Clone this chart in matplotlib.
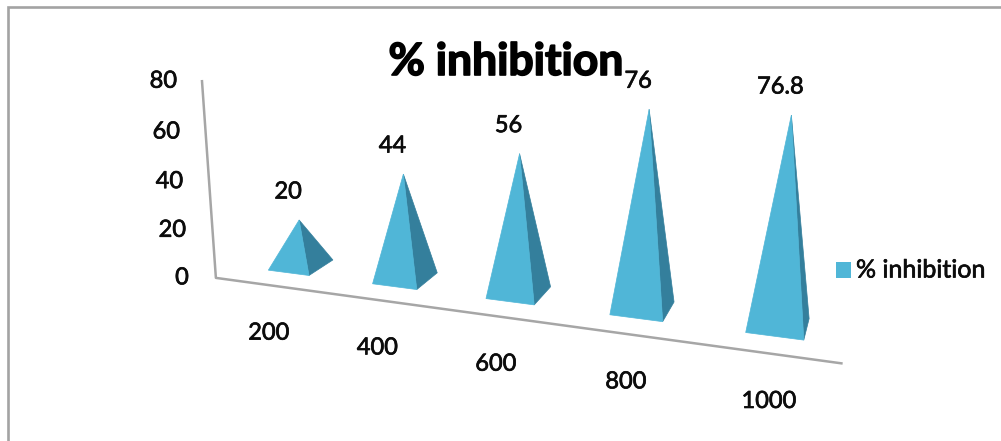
import numpy as np
import matplotlib
matplotlib.use("Agg")
import matplotlib.pyplot as plt
import matplotlib.patheffects as pe
from matplotlib.patches import Polygon

plt.rcParams['font.family'] = ['Lato', 'DejaVu Sans']

categories = ["200", "400", "600", "800", "1000"]
inhibition = [20, 44, 56, 76, 76.8]
value_ticks = [0, 20, 40, 60, 80]
value_labels = ["0", "20", "40", "60", "80"]
title_text = "% inhibition"

W, H = 1001, 441
FRONT = "#50b6d7"
SIDE = "#347f9c"
AXIS = "#a6a6a6"
INK = "#0c0c0c"

# camera for the 3D view: (category, value, depth) -> canvas position
CAMERA = np.array([
    [301.0, 88.1, -0.24, 18.2],
    [265.0, 2.1, -2.358, -2.4],
    [1.0, -0.04, -0.00049, 0.0198],
])
HALF_WIDTH = 0.2
HALF_DEPTH = 1.0
FLOOR_DEPTH = -2.5
AXIS_START = -0.52
AXIS_END = 4.47
WALL_STRETCH = 1.03

# the labels print a bit heavier than the regular weight
HEAVY = [pe.withStroke(linewidth=0.5, foreground=INK)]
HEAVIER = [pe.withStroke(linewidth=1.2, foreground="black")]


def project(u, v, d=0.0):
    px, py, w = CAMERA @ np.array([1.0, u, v, d])
    return px / w, py / w


fig = plt.figure(figsize=(W / 100, H / 100), dpi=100)
ax = fig.add_axes([0, 0, 1, 1])
ax.set_xlim(0, W)
ax.set_ylim(H, 0)
ax.axis("off")

# chart frame, only top and left edges are visible
ax.plot([8, 8, W], [H, 6.5, 6.5], color="#a3a3a3", lw=1.9, solid_joinstyle="miter")

# axes walls
bottom = project(AXIS_START, 0, FLOOR_DEPTH)
top = project(AXIS_START, 80 * WALL_STRETCH, FLOOR_DEPTH)
right = project(AXIS_END, 0, FLOOR_DEPTH)
ax.plot([top[0] - 2, bottom[0], right[0]], [top[1], bottom[1], right[1]], color=AXIS, lw=1.8)

for tick, label in zip(value_ticks, value_labels):
    tx, ty = project(AXIS_START, tick * WALL_STRETCH, FLOOR_DEPTH)
    ax.text(tx - 27, ty, label, fontsize=17, ha="right", va="center", color=INK, path_effects=HEAVY)

# pyramids with the labels above them
for i, (cat, val) in enumerate(zip(categories, inhibition)):
    apex = project(i, val)
    fl = project(i - HALF_WIDTH, 0, -HALF_DEPTH)
    fr = project(i + HALF_WIDTH, 0, -HALF_DEPTH)
    br = project(i + HALF_WIDTH, 0, HALF_DEPTH)
    ax.add_patch(Polygon([fr, br, apex], closed=True, fc=SIDE, ec=SIDE, lw=0.5))
    ax.add_patch(Polygon([fl, fr, apex], closed=True, fc=FRONT, ec=FRONT, lw=0.5))

    ax.text(apex[0] - 11, apex[1] - 28, "%g" % val, fontsize=17, ha="center", va="center",
            color=INK, path_effects=HEAVY, zorder=5)

    cx, cy = project(i, 0, FLOOR_DEPTH)
    ax.text(cx, cy + 48, cat, fontsize=17, ha="center", va="center", color=INK, path_effects=HEAVY)

ax.text(506, 62, title_text, fontsize=32, fontweight="bold", ha="center", va="center",
        color="black", path_effects=HEAVIER)

# legend
ax.add_patch(Polygon([(836, 262), (851, 262), (851, 278), (836, 278)], closed=True, fc=FRONT, ec="none"))
ax.text(856, 270, title_text, fontsize=18, ha="left", va="center", color=INK, path_effects=HEAVY)

fig.savefig("out.png", dpi=100)
